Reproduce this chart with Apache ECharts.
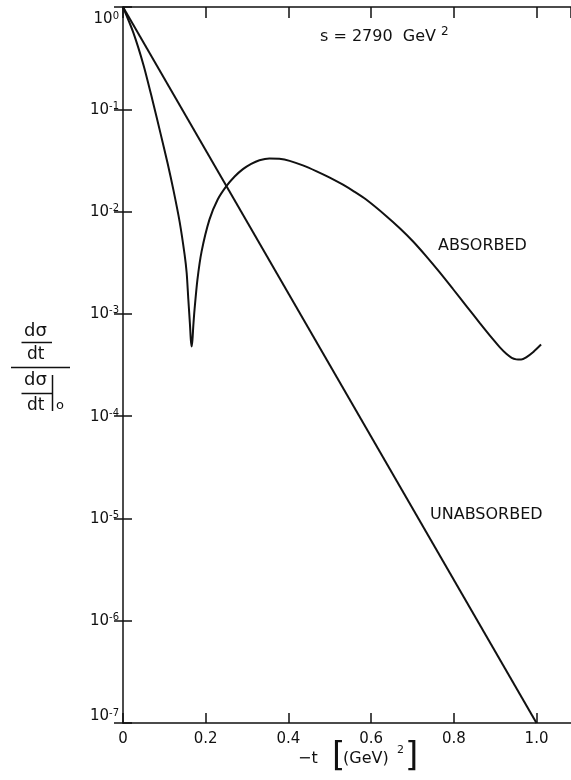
<!DOCTYPE html>
<html>
<head>
<meta charset="utf-8">
<script src="https://cdn.jsdelivr.net/npm/echarts@6/dist/echarts.min.js"></script>
<style>html,body{margin:0;padding:0;background:#fff;}#c{width:571px;height:780px;}</style>
</head>
<body>
<div id="c"></div>
<script>
// -t values (GeV^2) and normalised cross sections
const tAbsorbed = [0, 0.025, 0.050, 0.071, 0.091, 0.108, 0.122, 0.137, 0.149, 0.154, 0.158, 0.162, 0.164, 0.166, 0.168, 0.170, 0.173, 0.180, 0.190, 0.209, 0.229, 0.250, 0.270, 0.290, 0.310, 0.330, 0.354, 0.378, 0.403, 0.435, 0.467, 0.500, 0.532, 0.560, 0.588, 0.637, 0.670, 0.701, 0.733, 0.765, 0.798, 0.830, 0.862, 0.894, 0.912, 0.927, 0.940, 0.951, 0.963, 0.975, 0.993, 1.011];
const absorbed = [1.0, 0.562, 0.267, 0.124, 0.0575, 0.0295, 0.0162, 0.00794, 0.0038, 0.00251, 0.00138, 7.8e-4, 5.6e-4, 4.8e-4, 5.6e-4, 7.6e-4, 1.1e-3, 2.16e-3, 4.06e-3, 8.34e-3, 0.0131, 0.0177, 0.0220, 0.0260, 0.0293, 0.0318, 0.0331, 0.0328, 0.0313, 0.0283, 0.0249, 0.0215, 0.0183, 0.0156, 0.0131, 0.00902, 0.00684, 0.00513, 0.00367, 0.00257, 0.00175, 0.00120, 8.22e-4, 5.69e-4, 4.68e-4, 4.07e-4, 3.72e-4, 3.59e-4, 3.57e-4, 3.76e-4, 4.27e-4, 5.01e-4];
const tUnabsorbed = [0, 1.0];
const unabsorbed = [1.0, 1e-7];
const xTickLabels = ['0', '0.2', '0.4', '0.6', '0.8', '1.0'];
const yTickExponents = ['0', '-1', '-2', '-3', '-4', '-5', '-6', '-7'];

const FONT = 'DejaVu Sans';
const INK = '#111';
const X_MAX = 1.0834;
const chart = echarts.init(document.getElementById('c'), null, {renderer: 'canvas'});

const pair = (xs, ys) => xs.map((x, i) => [x, ys[i]]);

chart.setOption({
  animation: false,
  backgroundColor: '#fff',
  grid: {left: 123, top: 7, bottom: 57, right: 0, containLabel: false, outerBoundsMode: 'none'},
  xAxis: [{
    type: 'value', min: 0, max: X_MAX, interval: 0.2, position: 'bottom',
    axisLine: {show: true, lineStyle: {color: INK, width: 1.5}},
    axisTick: {show: true, inside: true, length: 10, lineStyle: {color: INK, width: 1.5}},
    splitLine: {show: false},
    axisLabel: {
      show: true, margin: 9, color: INK, fontFamily: FONT, fontSize: 15, showMaxLabel: false,
      formatter: v => { const i = Math.round(v / 0.2); return (Math.abs(v - i * 0.2) < 1e-6 && xTickLabels[i]) ? xTickLabels[i] : ''; }
    }
  }, {
    type: 'value', min: 0, max: X_MAX, interval: 0.2, position: 'top',
    axisLine: {show: true, lineStyle: {color: INK, width: 1.5}},
    axisTick: {show: true, inside: true, length: 11, lineStyle: {color: INK, width: 1.5}},
    axisLabel: {show: false}, splitLine: {show: false}
  }],
  yAxis: [{
    type: 'log', logBase: 10, min: 1e-7, max: 1, splitNumber: 7, position: 'left',
    axisLine: {show: true, lineStyle: {color: INK, width: 1.5}},
    axisTick: {show: true, inside: true, length: 9, lineStyle: {color: INK, width: 1.5}},
    minorTick: {show: false},
    splitLine: {show: false},
    axisLabel: {
      show: true, margin: 4, color: INK,
      formatter: v => {
        const e = Math.round(-Math.log10(v));
        const core = '{b|10}{s|' + yTickExponents[e] + '}';
        if (e === 0) return '{gt|}\n' + core;
        if (e === 7) return core + '\n{gb|}';
        return core;
      },
      rich: {
        b: {fontFamily: FONT, fontSize: 15, color: INK, lineHeight: 16, verticalAlign: 'bottom', padding: [6, 0, 0, 0]},
        s: {fontFamily: FONT, fontSize: 10, color: INK, lineHeight: 16, verticalAlign: 'top', padding: [0, 0, 6, 0]},
        gt: {fontSize: 10, lineHeight: 24},
        gb: {fontSize: 10, lineHeight: 14}
      }
    }
  }, {
    type: 'log', logBase: 10, min: 1e-7, max: 1, splitNumber: 7, position: 'right',
    axisLine: {show: false},
    axisTick: {show: true, inside: true, length: 9, lineStyle: {color: INK, width: 1.5}},
    axisLabel: {show: false}, splitLine: {show: false}, minorTick: {show: false}
  }],
  series: [{
    name: 'UNABSORBED', type: 'line', xAxisIndex: 0, yAxisIndex: 0,
    data: pair(tUnabsorbed, unabsorbed), showSymbol: false, symbol: 'none',
    lineStyle: {color: INK, width: 2}
  }, {
    name: 'ABSORBED', type: 'line', xAxisIndex: 0, yAxisIndex: 0,
    data: pair(tAbsorbed, absorbed), showSymbol: false, symbol: 'none', smooth: 0.25,
    lineStyle: {color: INK, width: 2}
  }],
  graphic: [
    {type: 'text', left: 320, top: 26, style: {
      text: 's = 2790  GeV {s|2}', fill: INK, font: '16px "DejaVu Sans"',
      rich: {s: {fontFamily: FONT, fontSize: 12, fill: INK, verticalAlign: 'top', lineHeight: 22}}
    }},
    {type: 'text', left: 438, top: 238, style: {text: 'ABSORBED', fill: INK, font: '16px "DejaVu Sans"'}},
    {type: 'text', left: 430, top: 507, style: {text: 'UNABSORBED', fill: INK, font: '16px "DejaVu Sans"'}},
    // x axis title
    {type: 'text', left: 298, top: 751, style: {text: '\u2212t', fill: INK, font: '16px "DejaVu Sans"'}},
    {type: 'text', left: 332, top: 740, style: {text: '[', fill: INK, font: '34px "DejaVu Sans"'}},
    {type: 'text', left: 343, top: 751, style: {text: '(GeV)', fill: INK, font: '16px "DejaVu Sans"'}},
    {type: 'text', left: 397, top: 745, style: {text: '2', fill: INK, font: '11px "DejaVu Sans"'}},
    {type: 'text', left: 405, top: 740, style: {text: ']', fill: INK, font: '34px "DejaVu Sans"'}},
    // y axis title (ratio of differential cross sections)
    {type: 'text', left: 24, top: 322, style: {text: 'd\u03c3', fill: INK, font: '18px "DejaVu Sans"'}},
    {type: 'line', shape: {x1: 21.5, y1: 342.5, x2: 52, y2: 342.5}, style: {stroke: INK, lineWidth: 1.5}},
    {type: 'text', left: 27, top: 346, style: {text: 'dt', fill: INK, font: '17px "DejaVu Sans"'}},
    {type: 'line', shape: {x1: 11, y1: 367.5, x2: 70, y2: 367.5}, style: {stroke: INK, lineWidth: 1.5}},
    {type: 'text', left: 24, top: 371, style: {text: 'd\u03c3', fill: INK, font: '18px "DejaVu Sans"'}},
    {type: 'line', shape: {x1: 21.5, y1: 393.5, x2: 52, y2: 393.5}, style: {stroke: INK, lineWidth: 1.5}},
    {type: 'text', left: 27, top: 397, style: {text: 'dt', fill: INK, font: '17px "DejaVu Sans"'}},
    {type: 'line', shape: {x1: 52.5, y1: 375, x2: 52.5, y2: 411}, style: {stroke: INK, lineWidth: 1.5}},
    {type: 'text', left: 56, top: 399, style: {text: 'o', fill: INK, font: '13px "DejaVu Sans"'}}
  ]
});
</script>
</body>
</html>
